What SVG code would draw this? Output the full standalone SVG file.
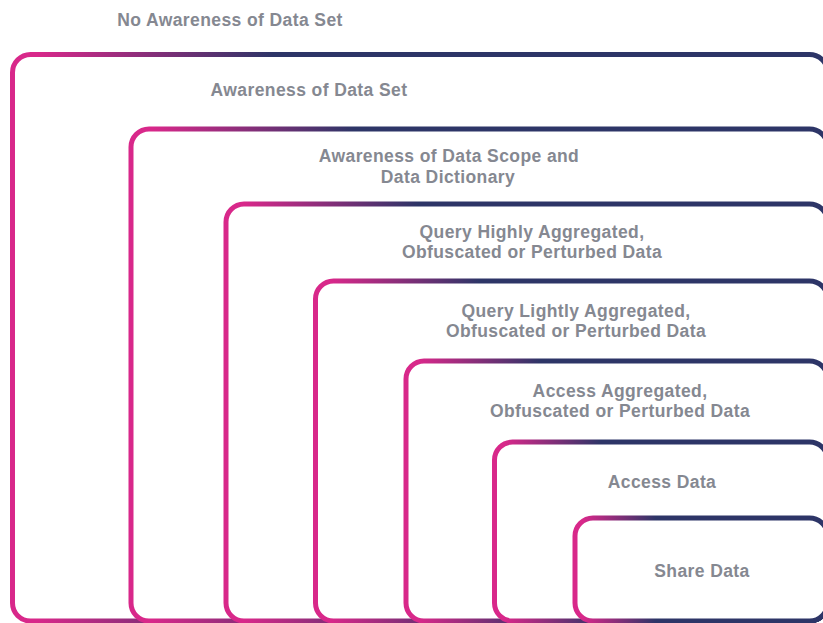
<svg xmlns="http://www.w3.org/2000/svg" width="823" height="623" viewBox="0 0 823 623">
  <defs>
    <linearGradient id="edge" x1="0" y1="0" x2="1" y2="0">
      <stop offset="0.03" stop-color="#d8288a"/>
      <stop offset="0.32" stop-color="#2d3567"/>
      <stop offset="1" stop-color="#2d3567"/>
    </linearGradient>
  </defs>
  <style>
    rect.lvl { fill: #ffffff; stroke: url(#edge); stroke-width: 5; }
    text { font-family: "Liberation Sans", Arial, sans-serif; font-size: 17.5px; font-weight: 600; letter-spacing: 0.4px; fill: #858891; text-anchor: middle; }
  </style>
  <rect width="823" height="623" fill="#ffffff"/>

  <text x="230" y="26">No Awareness of Data Set</text>

  <!-- nested levels, right and bottom edges run off the canvas -->
  <g id="awareness-of-data-set">
    <rect class="lvl" x="12.5" y="54.5" width="815" height="566.5" rx="18"/>
    <text x="309" y="96">Awareness of Data Set</text>
  </g>
  <g id="data-scope-dictionary">
    <rect class="lvl" x="131" y="129" width="696.5" height="492" rx="18"/>
    <text x="449" y="162">Awareness of Data Scope and</text>
    <text x="448" y="183">Data Dictionary</text>
  </g>
  <g id="query-highly-aggregated">
    <rect class="lvl" x="226" y="204" width="601.5" height="417" rx="18"/>
    <text x="532" y="238">Query Highly Aggregated,</text>
    <text x="532" y="258">Obfuscated or Perturbed Data</text>
  </g>
  <g id="query-lightly-aggregated">
    <rect class="lvl" x="315.5" y="281" width="512" height="340" rx="18"/>
    <text x="576" y="317">Query Lightly Aggregated,</text>
    <text x="576" y="337">Obfuscated or Perturbed Data</text>
  </g>
  <g id="access-aggregated">
    <rect class="lvl" x="406" y="361" width="421.5" height="260" rx="18"/>
    <text x="620" y="397">Access Aggregated,</text>
    <text x="620" y="417">Obfuscated or Perturbed Data</text>
  </g>
  <g id="access-data">
    <rect class="lvl" x="494.5" y="442" width="333" height="179" rx="18"/>
    <text x="662" y="488">Access Data</text>
  </g>
  <g id="share-data">
    <rect class="lvl" x="575" y="518" width="252.5" height="103" rx="18"/>
    <text x="702" y="577">Share Data</text>
  </g>
</svg>
